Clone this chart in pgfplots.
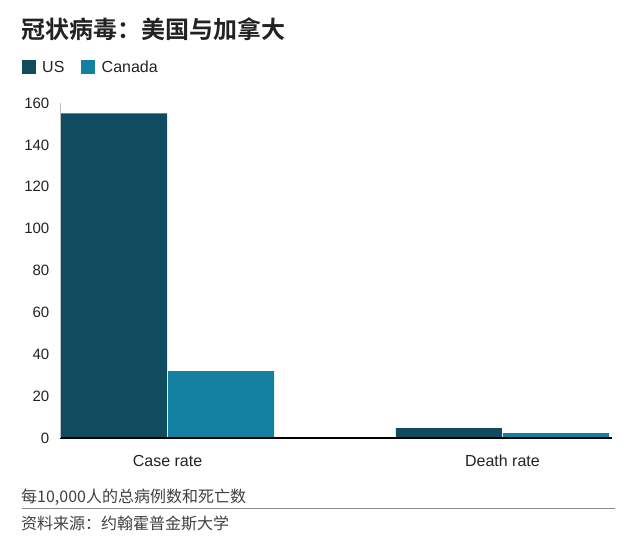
\documentclass[border=0pt]{standalone}
\usepackage{fontspec}
\setmainfont{Liberation Sans}
\newfontfamily\cjk{Noto Sans CJK SC}[BoldFont={Noto Sans CJK SC Bold}]
\usepackage{pgfplots}
\pgfplotsset{compat=1.18}

\definecolor{usc}{HTML}{0F4C5F}
\definecolor{cac}{HTML}{1380A1}
\definecolor{txt}{HTML}{222222}
\definecolor{foot}{HTML}{404040}

\begin{document}
\begin{tikzpicture}[x=1pt,y=1pt]
\path[use as bounding box] (0,0) rectangle (640,-543);

% title
\node[anchor=west, inner sep=0, text=txt] at (21,-29)
  {\cjk\bfseries\fontsize{24}{24}\selectfont 冠状病毒：美国与加拿大};

% legend
\fill[usc] (22,-60) rectangle (36,-74);
\node[anchor=west, inner sep=0, text=txt] at (42,-67) {\fontsize{16}{16}\selectfont US};
\fill[cac] (81,-60) rectangle (95,-74);
\node[anchor=west, inner sep=0, text=txt] at (101.5,-67) {\fontsize{16}{16}\selectfont Canada};

\begin{axis}[
  at={(60pt,-438pt)}, anchor=south west,
  scale only axis,
  width=552pt, height=335pt,
  xmin=-0.321, xmax=1.327,
  ymin=0, ymax=160,
  ytick={0,20,...,160},
  xtick={0,1},
  xticklabels={Case rate, Death rate},
  major tick length=0pt,
  axis x line*=bottom,
  axis y line*=left,
  x axis line style={black, line width=1.4pt, -},
  y axis line style={black!25, line width=0.6pt, -},
  axis on top,
  ybar=0pt,
  bar width=0.317,
  /pgf/number format/assume math mode=true,
  yticklabel style={anchor=east, inner sep=0pt, xshift=-10.5pt,
    text=txt, font=\fontsize{15}{15}\selectfont},
  xticklabel style={anchor=north, inner sep=0pt, yshift=-17pt,
    text=txt, font=\fontsize{16}{16}\selectfont},
]
% US
\addplot[fill=usc, draw=none, bar shift=-0.16] coordinates {(0,155) (1,4.7)};
% Canada
\addplot[fill=cac, draw=none, bar shift=0.16] coordinates {(0,32) (1,2.3)};
\end{axis}

% footer
\node[anchor=west, inner sep=0, text=foot] at (21,-497)
  {\cjk\fontsize{16}{16}\selectfont 每10,000人的总病例数和死亡数};
\draw[black!45, line width=1pt] (22,-508.5) -- (615,-508.5);
\node[anchor=west, inner sep=0, text=foot] at (21,-523)
  {\cjk\fontsize{16}{16}\selectfont 资料来源：约翰霍普金斯大学};
\end{tikzpicture}
\end{document}
